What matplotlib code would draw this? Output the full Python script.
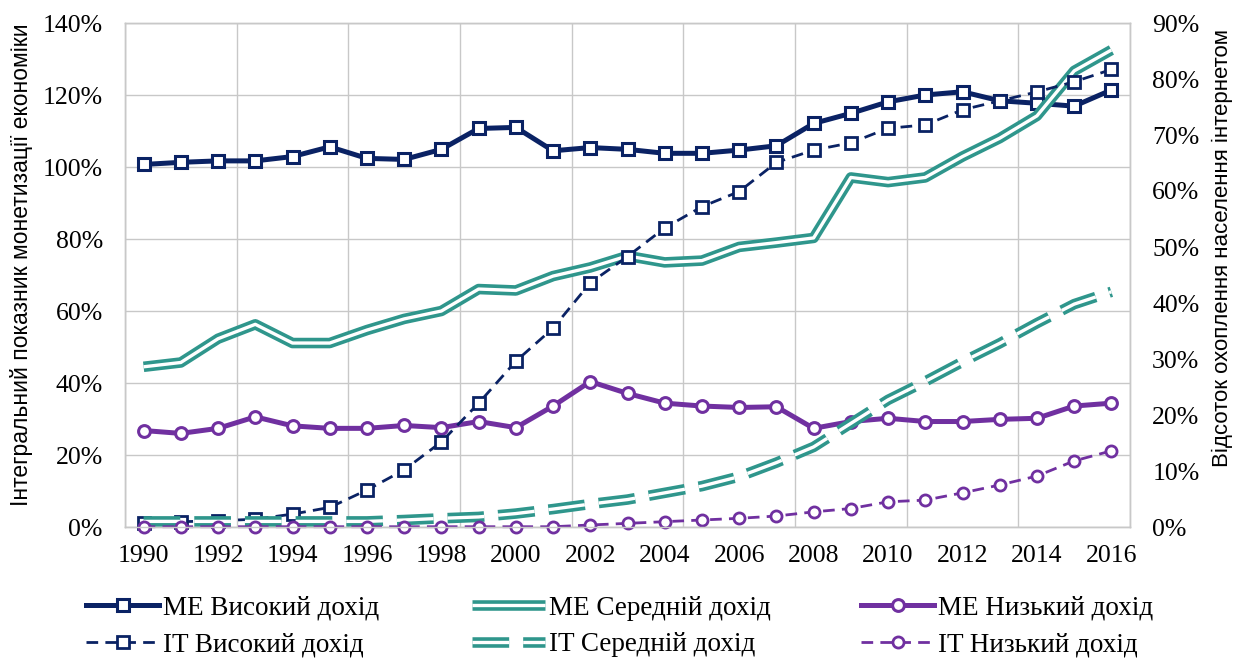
import matplotlib
matplotlib.use("Agg")
import matplotlib.pyplot as plt
import matplotlib.patheffects as pe
from matplotlib.ticker import FixedLocator, PercentFormatter

years = list(range(1990, 2017))

# монетизація економіки, % (ліва вісь)
me_high = [100.7, 101.3, 101.7, 101.7, 102.9, 105.6, 102.4, 102.1, 104.9, 110.7,
           111.0, 104.5, 105.4, 104.9, 103.8, 103.8, 104.7, 105.9, 112.1, 114.9,
           118.1, 120.0, 120.9, 118.4, 117.7, 116.9, 121.4]
me_mid = [44.5, 45.7, 52.3, 56.3, 51.1, 51.1, 54.7, 57.8, 60.0, 66.1,
          65.7, 69.7, 72.1, 75.3, 73.5, 74.0, 77.8, 79.0, 80.3, 97.1,
          95.8, 97.1, 102.9, 108.0, 114.2, 126.7, 132.5]
me_low = [26.8, 26.0, 27.4, 30.6, 28.1, 27.4, 27.4, 28.2, 27.6, 29.3,
          27.6, 33.6, 40.4, 37.1, 34.4, 33.6, 33.2, 33.4, 27.4, 29.3,
          30.2, 29.3, 29.3, 29.9, 30.2, 33.6, 34.4]

# охоплення населення інтернетом, % (права вісь)
it_high = [0.8, 0.95, 1.1, 1.4, 2.3, 3.5, 6.6, 10.2, 15.2, 22.1,
           29.6, 35.5, 43.6, 48.3, 53.4, 57.2, 59.9, 65.1, 67.3, 68.6,
           71.2, 71.8, 74.5, 76.1, 77.7, 79.5, 81.7]
it_mid = [1.0, 1.0, 1.0, 1.0, 1.0, 1.0, 1.0, 1.25, 1.55, 1.8,
          2.4, 3.2, 4.1, 4.9, 6.1, 7.3, 9.0, 11.5, 14.3, 18.5,
          22.7, 26.0, 29.5, 32.8, 36.4, 39.8, 42.0]
it_low = [0.05, 0.05, 0.05, 0.05, 0.05, 0.05, 0.05, 0.05, 0.05, 0.05,
          0.05, 0.05, 0.36, 0.65, 0.95, 1.25, 1.55, 1.96, 2.7, 3.3,
          4.5, 4.8, 6.1, 7.5, 9.1, 11.8, 13.6]

navy = "#0A2264"
teal = "#2F968C"
purple = "#7030A0"
grid_c = "#C8C8C8"

plt.rcParams["font.family"] = ["Liberation Serif", "DejaVu Serif"]

x = list(range(len(years)))

fig = plt.figure(figsize=(12.37, 6.59), dpi=100)
ax = fig.add_axes([125 / 1237, 1 - 527 / 659, 1005 / 1237, 504 / 659])
ax2 = ax.twinx()

# подвійна лінія: широка кольорова з білою серединою
double = [pe.Stroke(linewidth=7.6, foreground=teal), pe.Normal()]

l1, = ax.plot(x, me_high, color=navy, lw=3.6, marker="s", ms=8, mew=2.2,
              mfc="white", mec=navy, label="МЕ Високий дохід", clip_on=False)
l2, = ax.plot(x, me_mid, color="white", lw=2.4, label="МЕ Середній дохід",
              path_effects=double, solid_capstyle="butt")
l3, = ax.plot(x, me_low, color=purple, lw=3.6, marker="o", ms=8.5, mew=2.2,
              mfc="white", mec=purple, label="МЕ Низький дохід", clip_on=False)

l4, = ax2.plot(x, it_high, color=navy, lw=2.0, ls=(0, (4.2, 2.6)), marker="s",
               ms=8, mew=2.0, mfc="white", mec=navy, label="IT Високий дохід",
               clip_on=False)
l5, = ax2.plot(x, it_mid, color="white", lw=2.4, ls=(0, (11.0, 4.2)),
               dash_capstyle="butt", label="IT Середній дохід",
               path_effects=double)
l6, = ax2.plot(x, it_low, color=purple, lw=2.0, ls=(0, (4.2, 2.6)), marker="o",
               ms=8, mew=2.0, mfc="white", mec=purple, label="IT Низький дохід",
               clip_on=False)

ax.set_xlim(-0.5, len(years) - 0.5)
ax.set_ylim(0, 140)
ax2.set_ylim(0, 90)

ax.set_xticks(x[::2])
ax.set_xticklabels([str(y) for y in years[::2]])
ax.xaxis.set_minor_locator(FixedLocator([i - 0.5 for i in range(0, len(years) + 1, 3)]))
ax.set_yticks(range(0, 141, 20))
ax.yaxis.set_major_formatter(PercentFormatter(decimals=0))
ax2.set_yticks(range(0, 91, 10))
ax2.yaxis.set_major_formatter(PercentFormatter(decimals=0))

ax.grid(axis="y", which="major", color=grid_c, lw=1.0)
ax.grid(axis="x", which="minor", color=grid_c, lw=1.0)
ax.set_axisbelow(True)

ax.tick_params(axis="both", which="both", length=0, labelsize=18.5)
ax.tick_params(axis="y", pad=16)
ax.tick_params(axis="x", pad=13)
ax2.tick_params(axis="y", length=0, labelsize=18.5, pad=16)

for a in (ax, ax2):
    for s in a.spines.values():
        s.set_color(grid_c)
        s.set_linewidth(1.0)

fig.text(22 / 1237, 1 - 265 / 659, "Інтегральний показник монетизації економіки",
         rotation=90, ha="center", va="center", fontsize=16.5,
         family=["Liberation Sans", "DejaVu Sans"])
fig.text(1222 / 1237, 1 - 248 / 659, "Відсоток охоплення населення інтернетом",
         rotation=90, ha="center", va="center", fontsize=16,
         family=["Liberation Sans", "DejaVu Sans"])

# легенда: три колонки по два рядки
for xs, pair in ((86, (l1, l4)), (472, (l2, l5)), (861, (l3, l6))):
    fig.legend(handles=list(pair), loc="center left",
               bbox_to_anchor=(xs / 1237, 1 - 626.5 / 659),
               frameon=False, fontsize=19.5, handlelength=2.7, handletextpad=0.15,
               labelspacing=0.42, borderpad=0, borderaxespad=0, numpoints=1)

fig.savefig("out.png", dpi=100)
